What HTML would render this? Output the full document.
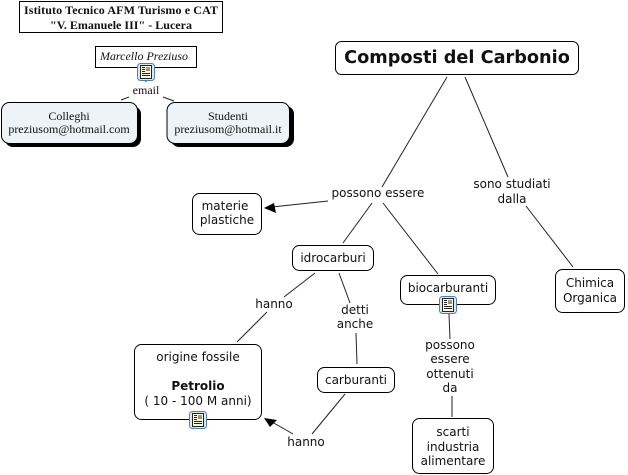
<!DOCTYPE html>
<html>
<head>
<meta charset="utf-8">
<style>
html,body{margin:0;padding:0;background:#fff;width:628px;height:475px;overflow:hidden}
svg{display:block}
.n{font-family:"DejaVu Sans",Verdana,sans-serif;font-size:12px;fill:#111;text-anchor:middle}
.s{font-family:"Liberation Serif",serif;font-size:12px;fill:#111;text-anchor:middle}
.b{fill:#fff;stroke:#000;stroke-width:1}
.l{stroke:#222;stroke-width:1;fill:none}
</style>
</head>
<body>
<svg width="628" height="475" viewBox="0 0 628 475" xmlns="http://www.w3.org/2000/svg">
<defs>
<g id="ic">
<rect x="0.5" y="0.5" width="17" height="17" rx="3" fill="#dce8f6" stroke="#4a7fc0" stroke-width="1"/>
<rect x="3.5" y="2.500" width="11" height="13" fill="#fffbe0" stroke="#222" stroke-width="1"/>
<rect x="9" y="4" width="4" height="4" fill="#8aa0b8"/>
<rect x="9" y="6" width="4" height="2" fill="#a8905a"/>
<path d="M5 4.500h3M5 6.500h3M5 8.500h3M5 10.500h8M5 12.500h8" stroke="#222" stroke-width="1"/>
</g>
</defs>
<!-- connectors -->
<path class="l" d="M447 77L382 187M465 77L508 177M526 206L573 267M328 201L272 207M372 203L343 243M383 203L438 274M315 273L284 297M267 312L237 342M339 273L350 303M356 333L357 364M345 394L312 434M293 434L272 422M449 314L450 339M452 396L452 417M121 100L129 97M163 97L174 101M146 80L146 82"/>
<polygon points="264,208 274,203 276,213" fill="#000"/>
<polygon points="264,418 277,420 270,427" fill="#000"/>
<!-- header -->
<rect class="b" x="19.500" y="1.500" width="203" height="31"/>
<text class="s" x="121" y="14" font-weight="bold" textLength="194" lengthAdjust="spacing">Istituto Tecnico AFM Turismo e CAT</text>
<text class="s" x="121" y="29" font-weight="bold" textLength="142" lengthAdjust="spacing">"V. Emanuele III" - Lucera</text>
<rect class="b" x="95.500" y="46.500" width="101" height="21"/>
<text class="s" x="144" y="60" font-style="italic">Marcello Preziuso</text>
<use href="#ic" x="137" y="63"/>
<text class="s" x="146" y="94">email</text>
<!-- shadow nodes -->
<rect x="5" y="106" width="136" height="41" rx="8" fill="#000"/>
<rect x="1.500" y="102.500" width="136" height="41" rx="8" fill="#edf3f6" stroke="#000"/>
<text class="s" x="69" y="120">Colleghi</text>
<text class="s" x="69" y="133">preziusom@hotmail.com</text>
<rect x="171" y="106" width="123" height="41" rx="8" fill="#000"/>
<rect x="167" y="102.500" width="122.500" height="41" rx="8" fill="#edf3f6" stroke="#000"/>
<text class="s" x="228" y="120">Studenti</text>
<text class="s" x="228" y="133">preziusom@hotmail.it</text>
<!-- root -->
<rect class="b" x="335.500" y="41.500" width="243" height="33" rx="6"/>
<text class="n" x="457" y="63" style="font-size:17.7px;font-weight:bold">Composti del Carbonio</text>
<!-- link labels -->
<text class="n" x="378" y="197">possono essere</text>
<text class="n" x="512" y="188">sono studiati</text>
<text class="n" x="512" y="203">dalla</text>
<text class="n" x="274" y="308">hanno</text>
<text class="n" x="355" y="314">detti</text>
<text class="n" x="355" y="328">anche</text>
<text class="n" x="306" y="446">hanno</text>
<text class="n" x="450" y="349">possono</text>
<text class="n" x="450" y="363">essere</text>
<text class="n" x="450" y="378">ottenuti</text>
<text class="n" x="450" y="392">da</text>
<!-- nodes -->
<rect class="b" x="192.500" y="193.500" width="69" height="41" rx="7"/>
<text class="n" x="225" y="210">materie</text>
<text class="n" x="227" y="224">plastiche</text>
<rect class="b" x="292.500" y="245.500" width="81" height="25" rx="7"/>
<text class="n" x="333" y="262">idrocarburi</text>
<rect class="b" x="400.500" y="275.500" width="95" height="29" rx="7"/>
<text class="n" x="448" y="292">biocarburanti</text>
<use href="#ic" x="439" y="296"/>
<rect class="b" x="555.500" y="269.500" width="69" height="43" rx="7"/>
<text class="n" x="590" y="287">Chimica</text>
<text class="n" x="590" y="302">Organica</text>
<rect class="b" x="134.500" y="344.500" width="127" height="75" rx="7"/>
<text class="n" x="198" y="361">origine fossile</text>
<text class="n" x="198" y="390" font-weight="bold">Petrolio</text>
<text class="n" x="198" y="405">( 10 - 100 M anni)</text>
<use href="#ic" x="189" y="411"/>
<rect class="b" x="317.500" y="367.500" width="77" height="25" rx="7"/>
<text class="n" x="356" y="384">carburanti</text>
<rect class="b" x="412.500" y="418.500" width="81" height="55" rx="7"/>
<text class="n" x="453" y="436">scarti</text>
<text class="n" x="453" y="451">industria</text>
<text class="n" x="453" y="465">alimentare</text>
</svg>
</body>
</html>
